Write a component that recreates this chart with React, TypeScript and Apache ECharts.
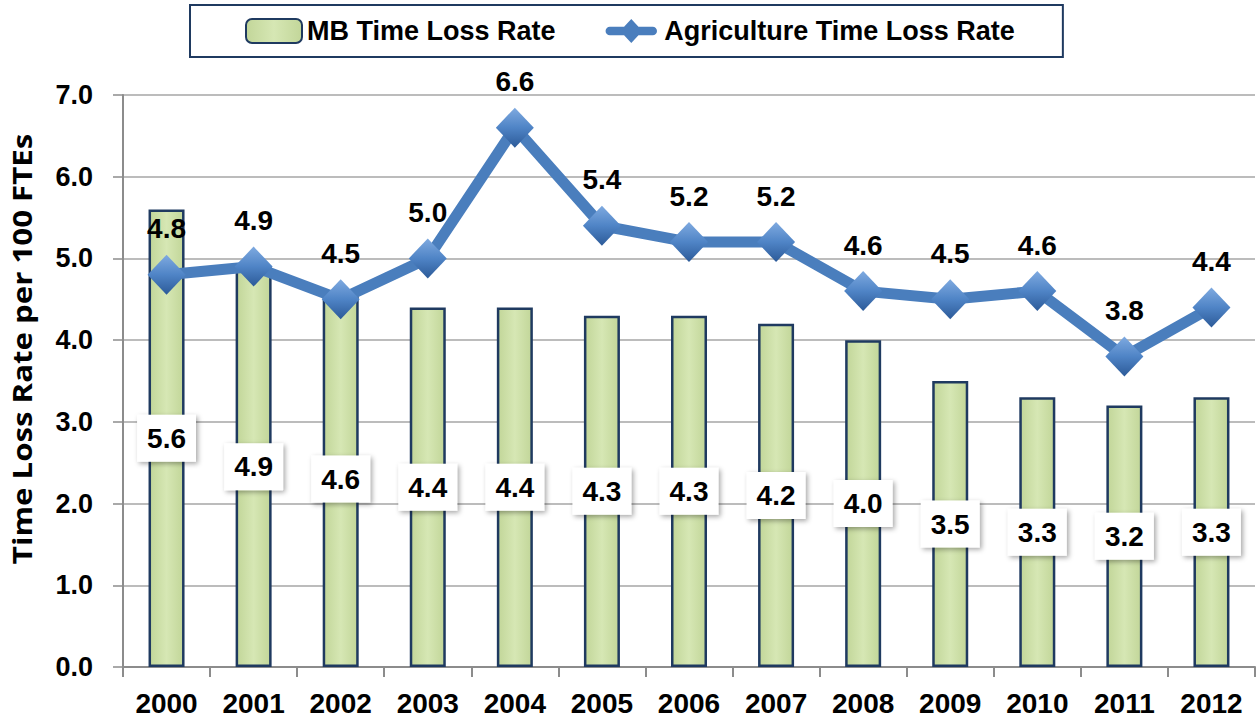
import React, { useEffect, useRef } from "react";
import * as echarts from "echarts";

const years = ["2000", "2001", "2002", "2003", "2004", "2005", "2006", "2007", "2008", "2009", "2010", "2011", "2012"];
const mbRate = [5.6, 4.9, 4.6, 4.4, 4.4, 4.3, 4.3, 4.2, 4.0, 3.5, 3.3, 3.2, 3.3];
const agRate = [4.8, 4.9, 4.5, 5.0, 6.6, 5.4, 5.2, 5.2, 4.6, 4.5, 4.6, 3.8, 4.4];

const FONT = "'Liberation Sans', Arial, sans-serif";
const LINE_ICON = "path://M6,9 L56,9 A5,5 0 0 1 56,19 L6,19 A5,5 0 0 1 6,9 Z M31,0 L44,14 L31,28 L18,14 Z";

export default function App() {
  const ref = useRef<HTMLDivElement>(null);
  useEffect(() => {
    document.body.style.margin = "0";
    const chart = echarts.init(ref.current!, null, { renderer: "svg" });
    chart.setOption({
      animation: false,
      backgroundColor: "#ffffff",
      grid: { left: 123, right: 5, top: 95, bottom: 57, containLabel: false },
      legend: {
        left: 190,
        top: 5,
        padding: [10, 48, 10, 55],
        borderColor: "#1F3A60",
        borderWidth: 2,
        itemGap: 50,
        itemWidth: 56,
        itemHeight: 24,
        textStyle: { fontFamily: FONT, fontWeight: "bold", fontSize: 27, color: "#000", lineHeight: 32 },
        data: [
          { name: "MB Time Loss Rate" },
          { name: "Agriculture Time Loss Rate", icon: LINE_ICON, itemStyle: { color: "#4A7EBD" } },
        ],
      },
      xAxis: {
        type: "category",
        data: years,
        axisLine: { lineStyle: { color: "#8C8C8C", width: 2 } },
        axisTick: { show: true, length: 10, lineStyle: { color: "#8C8C8C", width: 2 } },
        axisLabel: { fontFamily: FONT, fontWeight: "bold", fontSize: 28, color: "#000", margin: 22 },
      },
      yAxis: {
        type: "value",
        min: 0,
        max: 7,
        interval: 1,
        axisLine: { show: true, lineStyle: { color: "#8C8C8C", width: 2 } },
        axisTick: { show: true, length: 10, lineStyle: { color: "#8C8C8C", width: 1.5 } },
        splitLine: { lineStyle: { color: "#A6A6A6", width: 1.5 } },
        axisLabel: {
          fontFamily: FONT,
          fontWeight: "bold",
          fontSize: 27,
          color: "#000",
          margin: 30,
          formatter: (v: number) => v.toFixed(1),
        },
      },
      graphic: [
        {
          type: "text",
          x: 22,
          y: 349,
          rotation: Math.PI / 2,
          scaleX: 1.2,
          style: {
            text: "Time Loss Rate per 100 FTEs",
            fontFamily: "'Open Sans', 'Noto Sans', sans-serif",
            fontWeight: "bold",
            fontSize: 26,
            fill: "#000",
            align: "center",
            verticalAlign: "middle",
          },
        },
      ],
      series: [
        {
          name: "MB Time Loss Rate",
          type: "bar",
          data: mbRate,
          barWidth: 36,
          itemStyle: {
            color: new echarts.graphic.LinearGradient(0, 0, 1, 0, [
              { offset: 0, color: "#C2D699" },
              { offset: 0.5, color: "#D6E7B4" },
              { offset: 1, color: "#C2D699" },
            ]),
            borderColor: "#1F3A60",
            borderWidth: 2.5,
          },
          label: {
            show: true,
            position: "inside",
            formatter: (p: any) => p.value.toFixed(1),
            fontFamily: FONT,
            fontWeight: "bold",
            fontSize: 28,
            lineHeight: 28,
            color: "#000",
            backgroundColor: "#ffffff",
            padding: [10, 10, 9, 10],
            shadowColor: "rgba(0,0,0,0.35)",
            shadowBlur: 5,
            shadowOffsetX: 2,
            shadowOffsetY: 2,
          },
          z: 2,
        },
        {
          name: "Agriculture Time Loss Rate",
          type: "line",
          data: agRate,
          symbol: "diamond",
          symbolSize: [38, 40],
          lineStyle: { color: "#4A7EBD", width: 11 },
          itemStyle: {
            color: new echarts.graphic.LinearGradient(0, 0, 0, 1, [
              { offset: 0, color: "#7FAAE0" },
              { offset: 0.5, color: "#4F84C6" },
              { offset: 1, color: "#2C5A98" },
            ]),
            borderWidth: 0,
          },
          label: {
            show: true,
            position: "top",
            distance: 12,
            formatter: (p: any) => p.value.toFixed(1),
            fontFamily: FONT,
            fontWeight: "bold",
            fontSize: 28,
            color: "#000",
          },
          z: 5,
        },
      ],
    });
    return () => chart.dispose();
  }, []);
  return <div ref={ref} style={{ width: 1260, height: 724 }} />;
}
